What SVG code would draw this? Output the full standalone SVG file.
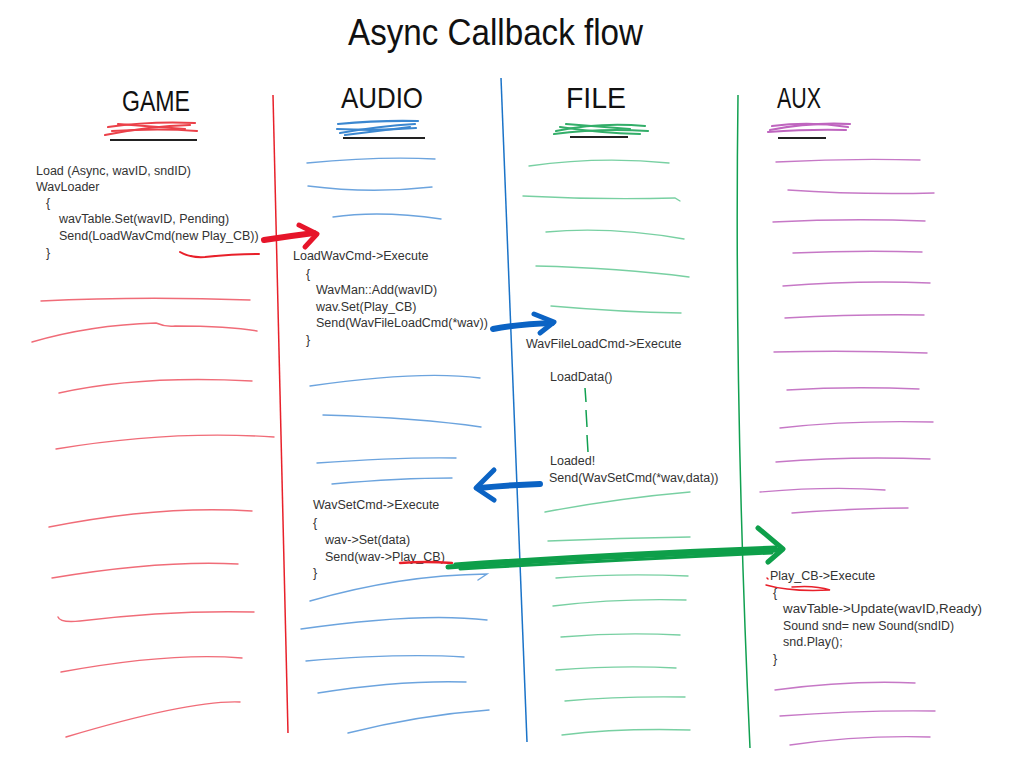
<svg xmlns="http://www.w3.org/2000/svg" width="1022" height="778" viewBox="0 0 1022 778">
<defs>
<style>
.title{font-family:"Liberation Sans",Arial,sans-serif;font-size:36px;fill:#111}
.hdr{font-family:"Liberation Sans",Arial,sans-serif;font-size:30px;fill:#111}
.code{font-family:"Liberation Sans",Arial,sans-serif;font-size:12.5px;fill:#333}
.fill{fill:none;stroke-width:1.4;stroke-linecap:round;opacity:0.75}
.r{stroke:#ec3b4b}.b{stroke:#3b86d4}.g{stroke:#4cc184}.p{stroke:#b44bb4}
.lane{fill:none;stroke-width:1.5}
.scrib{fill:none;stroke-width:2.2;stroke-linecap:round;opacity:0.85}
.ul{fill:none;stroke:#222;stroke-width:2}
.arr{fill:none;stroke-linecap:round;stroke-linejoin:round}
</style>
</defs>
<rect width="1022" height="778" fill="#fff"/>
<text class="title" x="348" y="45" textLength="295" lengthAdjust="spacingAndGlyphs">Async Callback flow</text>

<g id="lanes">
<path class="lane" stroke="#e8202a" d="M273,95 Q280,400 288,733"/>
<path class="lane" stroke="#1a73c8" d="M501,78 L527,742"/>
<path class="lane" stroke="#10a050" d="M738,95 Q734,400 750,748"/>
</g>

<g id="game">
<text class="hdr" x="122" y="111" textLength="68" lengthAdjust="spacingAndGlyphs">GAME</text>
<g class="scrib" stroke="#e8202a">
<path d="M108,127 Q150,121 195,123"/><path d="M105,135 Q150,126 190,125"/><path d="M112,131 Q160,128 197,131"/><path d="M118,124 L185,129"/>
</g>
<path class="ul" d="M110,140 L197,140"/>
<text class="code" x="36" y="175">Load (Async, wavID, sndID)</text>
<text class="code" x="36" y="191">WavLoader</text>
<text class="code" x="46" y="207">{</text>
<text class="code" x="59" y="223">wavTable.Set(wavID, Pending)</text>
<text class="code" x="59" y="240">Send(LoadWavCmd(new Play_CB))</text>
<text class="code" x="46" y="257">}</text>
<path d="M180,252 Q190,258 205,257 Q235,254 259,254" fill="none" stroke="#e8202a" stroke-width="2" stroke-linecap="round"/>
<g class="fill r">
<path d="M41,301 Q140,296 250,300"/>
<path d="M32,342 Q90,325 156,323 Q165,327 175,326 Q230,326 257,331"/>
<path d="M59,393 Q140,375 252,381"/>
<path d="M56,449 Q170,430 274,437"/>
<path d="M49,527 Q160,505 252,511"/>
<path d="M52,578 Q160,560 238,564"/>
<path d="M58,617 Q60,623 80,621 Q170,610 254,612"/>
<path d="M61,672 Q170,652 242,658"/>
<path d="M66,737 Q190,700 240,702"/>
</g>
</g>

<g id="audio">
<text class="hdr" x="341" y="108" textLength="82" lengthAdjust="spacingAndGlyphs">AUDIO</text>
<g class="scrib" stroke="#1a73c8">
<path d="M338,124 Q380,120 418,121"/><path d="M340,133 Q380,126 415,124"/><path d="M337,129 Q380,131 416,128"/><path d="M345,135 L410,127"/>
</g>
<path class="ul" d="M343,138 L425,138"/>
<text class="code" x="293" y="260">LoadWavCmd-&gt;Execute</text>
<text class="code" x="306" y="278">{</text>
<text class="code" x="316" y="294">WavMan::Add(wavID)</text>
<text class="code" x="316" y="311">wav.Set(Play_CB)</text>
<text class="code" x="316" y="327">Send(WavFileLoadCmd(*wav))</text>
<text class="code" x="306" y="344">}</text>
<text class="code" x="313" y="509">WavSetCmd-&gt;Execute</text>
<text class="code" x="313" y="527">{</text>
<text class="code" x="325" y="544">wav-&gt;Set(data)</text>
<text class="code" x="325" y="561">Send(wav-&gt;Play_CB)</text>
<text class="code" x="313" y="577">}</text>
<path d="M400,563 Q425,561 452,563" fill="none" stroke="#e8202a" stroke-width="2.5" stroke-linecap="round"/>
<g class="fill b">
<path d="M307,163 Q380,156 435,159"/>
<path d="M308,186 Q370,194 432,187"/>
<path d="M333,217 Q380,210 441,219"/>
<path d="M310,386 Q420,370 480,378"/>
<path d="M323,415 Q420,418 481,427"/>
<path d="M317,463 Q400,457 456,458"/>
<path d="M332,484 Q400,478 452,478"/>
<path d="M310,601 Q400,575 487,574 L478,580"/>
<path d="M301,629 Q420,612 487,620"/>
<path d="M306,661 Q400,653 464,657"/>
<path d="M318,693 Q400,680 466,682"/>
<path d="M348,733 Q420,715 489,710"/>
</g>
</g>

<g id="file">
<text class="hdr" x="566" y="108" textLength="60" lengthAdjust="spacingAndGlyphs">FILE</text>
<g class="scrib" stroke="#10a050">
<path d="M556,131 Q600,122 645,126"/><path d="M554,134 Q600,128 648,131"/><path d="M560,127 Q600,133 640,134"/><path d="M566,124 L630,129"/>
</g>
<path class="ul" d="M570,137 L628,137"/>
<text class="code" x="526" y="348">WavFileLoadCmd-&gt;Execute</text>
<text class="code" x="550" y="381">LoadData()</text>
<path d="M585,388 L586,402 M586,410 L587,427 M587,435 L588,452" fill="none" stroke="#10a050" stroke-width="1.5"/>
<text class="code" x="550" y="465">Loaded!</text>
<text class="code" x="549" y="482">Send(WavSetCmd(*wav,data))</text>
<g class="fill g">
<path d="M529,166 Q600,156 669,163"/>
<path d="M523,196 Q600,200 675,198 L680,201"/>
<path d="M546,232 Q610,226 684,239"/>
<path d="M536,266 Q620,268 689,277"/>
<path d="M551,306 Q620,312 681,313"/>
<path d="M545,512 Q620,498 690,492"/>
<path d="M548,541 Q620,538 690,537"/>
<path d="M556,578 Q620,573 688,576"/>
<path d="M553,606 Q620,598 686,600"/>
<path d="M561,637 Q620,632 680,635"/>
<path d="M556,670 Q620,665 676,668"/>
<path d="M565,701 Q620,696 685,697"/>
<path d="M562,735 Q620,728 690,730"/>
</g>
</g>

<g id="aux">
<text class="hdr" x="777" y="108" textLength="44" lengthAdjust="spacingAndGlyphs">AUX</text>
<g class="scrib" stroke="#b44bb4">
<path d="M770,130 Q810,122 850,124"/><path d="M772,126 Q810,121 848,127"/><path d="M768,132 Q810,129 846,130"/>
</g>
<path class="ul" d="M778,138 L826,138"/>
<text class="code" x="770" y="580">Play_CB-&gt;Execute</text>
<path d="M767,578 L768,579 M766,585 Q790,592 830,590 Q815,585 792,587" fill="none" stroke="#e8202a" stroke-width="1.5" stroke-linecap="round"/>
<text class="code" x="773" y="597">{</text>
<text class="code" x="783" y="613" textLength="199" lengthAdjust="spacingAndGlyphs">wavTable-&gt;Update(wavID,Ready)</text>
<text class="code" x="783" y="630" textLength="171" lengthAdjust="spacingAndGlyphs">Sound snd= new Sound(sndID)</text>
<text class="code" x="783" y="646">snd.Play();</text>
<text class="code" x="773" y="663">}</text>
<g class="fill p">
<path d="M776,162 Q850,158 920,160"/>
<path d="M788,190 Q860,195 934,193"/>
<path d="M773,222 Q850,218 925,221"/>
<path d="M793,253 Q860,250 922,252"/>
<path d="M783,286 Q860,280 930,283"/>
<path d="M785,318 Q860,314 924,315"/>
<path d="M774,352 Q850,350 927,353"/>
<path d="M787,390 Q850,386 919,389"/>
<path d="M780,428 Q850,420 933,422"/>
<path d="M776,462 Q850,456 930,459"/>
<path d="M760,492 Q830,486 885,490"/>
<path d="M792,513 Q860,508 908,508"/>
<path d="M775,690 Q850,680 915,683"/>
<path d="M780,716 Q860,710 935,711"/>
<path d="M790,745 Q860,735 930,737"/>
</g>
</g>

<g id="connectors">
<g class="arr" stroke="#e6152a">
<path d="M264,240 Q290,236 314,233" stroke-width="6"/>
<path d="M299,225 L317,234 L305,247" stroke-width="5"/>
</g>
<g class="arr" stroke="#0b63c4">
<path d="M493,329 Q520,324 552,323" stroke-width="6"/>
<path d="M534,314 L554,322 L540,333" stroke-width="5"/>
<path d="M540,484 Q510,485 479,488" stroke-width="6"/>
<path d="M494,470 L476,488 L494,500" stroke-width="5"/>
</g>
<g class="arr" stroke="#0e9f4a">
<path d="M448,567 Q600,556 780,550" stroke-width="5"/>
<path d="M455,564 Q610,553 776,547" stroke-width="3"/>
<path d="M460,569 Q620,560 772,553" stroke-width="3"/>
<path d="M758,528 L783,549 L768,562" stroke-width="5"/>
</g>
</g>
</svg>
